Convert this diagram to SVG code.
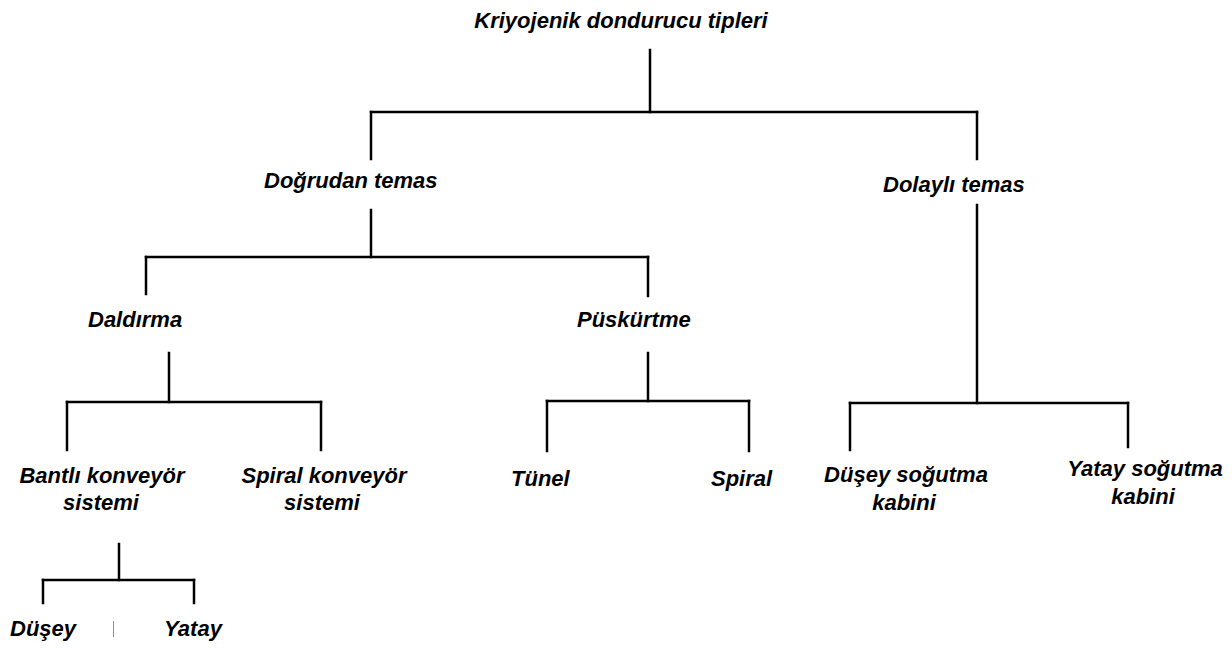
<svg xmlns="http://www.w3.org/2000/svg" width="1232" height="648" viewBox="0 0 1232 648">
<style>
text{font-family:"Liberation Sans",Arial,sans-serif;font-weight:bold;font-style:italic;font-size:22px;fill:#000}
.c line{stroke:#000;stroke-width:2.5;stroke-linecap:square}
.m{text-anchor:middle}
</style>
<rect width="1232" height="648" fill="#fff"/>
<g class="c" id="connectors">
<line x1="650" y1="50" x2="650" y2="112"/>
<line x1="371" y1="112" x2="977" y2="112"/>
<line x1="371" y1="112" x2="371" y2="159"/>
<line x1="977" y1="112" x2="977" y2="159"/>
<line x1="371" y1="210" x2="371" y2="257"/>
<line x1="146" y1="257" x2="648" y2="257"/>
<line x1="146" y1="257" x2="146" y2="294"/>
<line x1="648" y1="257" x2="648" y2="296"/>
<line x1="977" y1="205" x2="977" y2="403"/>
<line x1="850" y1="403" x2="1128" y2="403"/>
<line x1="850" y1="403" x2="850" y2="450"/>
<line x1="1128" y1="403" x2="1128" y2="447"/>
<line x1="169" y1="353" x2="169" y2="402"/>
<line x1="67" y1="402" x2="321" y2="402"/>
<line x1="67" y1="402" x2="67" y2="450"/>
<line x1="321" y1="402" x2="321" y2="450"/>
<line x1="648" y1="353" x2="648" y2="401"/>
<line x1="547" y1="401" x2="749" y2="401"/>
<line x1="547" y1="401" x2="547" y2="451"/>
<line x1="749" y1="401" x2="749" y2="451"/>
<line x1="119" y1="544" x2="119" y2="580"/>
<line x1="43" y1="580" x2="194" y2="580"/>
<line x1="43" y1="580" x2="43" y2="603"/>
<line x1="194" y1="580" x2="194" y2="603"/>
</g>
<line x1="113.5" y1="621" x2="113.5" y2="637" stroke="#5b9bd5" stroke-width="1"/>
<g id="n-root"><text x="621" y="28" class="m">Kriyojenik dondurucu tipleri</text></g>
<g id="n-dogrudan"><text x="264" y="188">Doğrudan temas</text></g>
<g id="n-dolayli"><text x="883" y="192">Dolaylı temas</text></g>
<g id="n-daldirma"><text x="88" y="327">Daldırma</text></g>
<g id="n-puskurtme"><text x="577" y="327">Püskürtme</text></g>
<g id="n-bantli"><text x="102" y="483" class="m">Bantlı konveyör<tspan x="101" dy="27">sistemi</tspan></text></g>
<g id="n-spiralk"><text x="324" y="483" class="m">Spiral konveyör<tspan x="322" dy="27">sistemi</tspan></text></g>
<g id="n-tunel"><text x="511" y="486">Tünel</text></g>
<g id="n-spiral"><text x="711" y="486">Spiral</text></g>
<g id="n-dusey-kabin"><text x="906" y="482" class="m">Düşey soğutma<tspan x="904" dy="28">kabini</tspan></text></g>
<g id="n-yatay-kabin"><text x="1145" y="476" class="m">Yatay soğutma<tspan x="1143" dy="28">kabini</tspan></text></g>
<g id="n-dusey"><text x="10" y="636">Düşey</text></g>
<g id="n-yatay"><text x="164" y="636">Yatay</text></g>
</svg>
